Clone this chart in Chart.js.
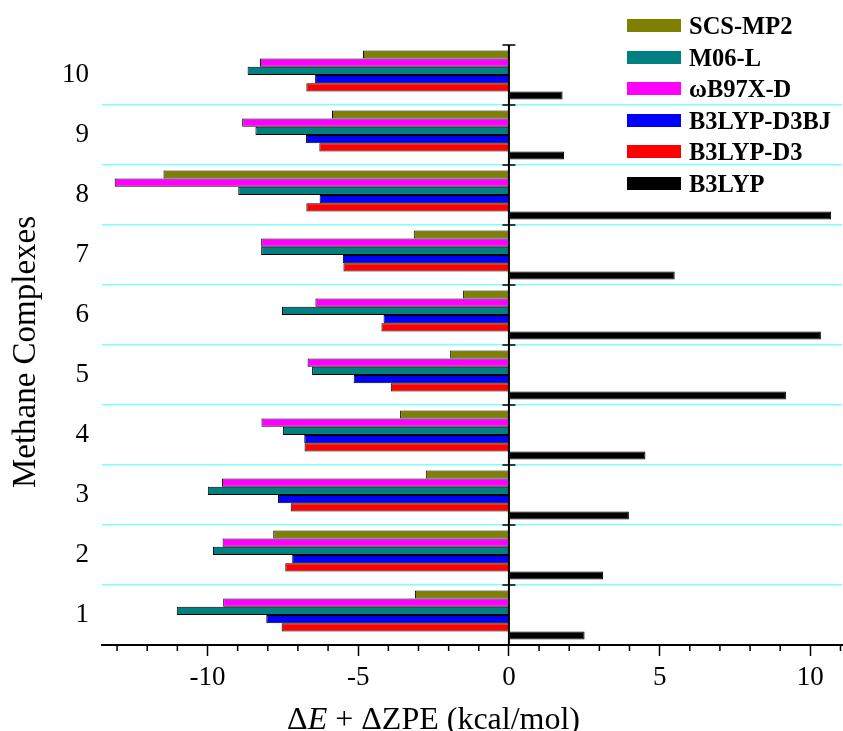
<!DOCTYPE html>
<html>
<head>
<meta charset="utf-8">
<title>Methane Complexes</title>
<script src="https://cdn.jsdelivr.net/npm/chart.js@4.4.1/dist/chart.umd.min.js"></script>
<style>
    body { margin: 0; background: #ffffff; }
    #wrap { position: relative; width: 843px; height: 731px; }
    #legend { position: absolute; left: 627px; top: 10px; font-family: "Times New Roman", "Liberation Serif", serif; }
    .legend-row { display: flex; align-items: center; height: 31.5px; }
    .legend-box { width: 54px; height: 13px; }
    .legend-text { margin-left: 8px; font-weight: bold; font-size: 24.5px; color: #000; line-height: 31.5px; }
</style>
</head>
<body>
<div id="wrap">
    <canvas id="energyChart" width="843" height="731"></canvas>
    <div id="legend"></div>
</div>
<script>
// complexes 1..10, energies in kcal/mol
const complexes = ["1", "2", "3", "4", "5", "6", "7", "8", "9", "10"];
const scsMp2   = [-3.12, -7.82, -2.76, -3.61, -1.95, -1.52, -3.16, -11.46, -5.87, -4.84];
const wb97xd   = [-9.48, -9.50, -9.52, -8.21, -6.68, -6.42, -8.22, -13.08, -8.85, -8.26];
const m06l     = [-11.02, -9.82, -9.99, -7.50, -6.53, -7.53, -8.22, -8.98, -8.41, -8.67];
const b3lypD3bj = [-8.05, -7.19, -7.66, -6.79, -5.15, -4.16, -5.51, -6.28, -6.73, -6.43];
const b3lypD3  = [-7.54, -7.42, -7.24, -6.78, -3.92, -4.23, -5.49, -6.72, -6.29, -6.72];
const b3lyp    = [2.51, 3.12, 3.98, 4.53, 9.19, 10.35, 5.50, 10.69, 1.83, 1.78];

const xTicks = [-10, -5, 0, 5, 10];
const legendOrder = ["SCS-MP2", "M06-L", "ωB97X-D", "B3LYP-D3BJ", "B3LYP-D3", "B3LYP"];

const serif = "'Times New Roman', 'Liberation Serif', serif";

document.addEventListener("DOMContentLoaded", function () {
    drawChart();
});

// zero axis with small ticks between complexes, short minor ticks on the x axis
const axisExtras = {
    id: "axisExtras",
    afterDatasetsDraw(chart) {
        let ctx = chart.ctx;
        let x = chart.scales.x;
        let y = chart.scales.y;
        let zero = x.getPixelForValue(0);
        let half = Math.abs(y.getPixelForValue(1) - y.getPixelForValue(0)) / 2;

        ctx.save();
        ctx.strokeStyle = "#000";
        ctx.lineWidth = 2;
        ctx.beginPath();
        ctx.moveTo(zero, y.top);
        ctx.lineTo(zero, y.bottom);
        ctx.stroke();

        ctx.lineWidth = 1.5;
        ctx.beginPath();
        complexes.forEach((c, i) => {
            let p = y.getPixelForValue(i);
            [p - half, p + half].forEach(edge => {
                ctx.moveTo(zero - 6.5, edge);
                ctx.lineTo(zero + 6.5, edge);
            });
        });
        ctx.stroke();

        ctx.beginPath();
        x.ticks.forEach(t => {
            if (t.value % 5 !== 0) {
                let px = x.getPixelForValue(t.value);
                ctx.moveTo(px, x.top);
                ctx.lineTo(px, x.top + 6);
            }
        });
        ctx.stroke();
        ctx.restore();
    },
    afterDraw(chart) {
        let ctx = chart.ctx;
        let x = chart.scales.x;
        let y = chart.scales.y;

        // x title with an italic E
        let parts = [
            { text: "Δ", font: "32px " + serif },
            { text: "E", font: "italic 32px " + serif },
            { text: " + ΔZPE (kcal/mol)", font: "32px " + serif }
        ];
        ctx.save();
        ctx.fillStyle = "#000";
        ctx.textBaseline = "alphabetic";
        let total = 0;
        parts.forEach(p => { ctx.font = p.font; p.w = ctx.measureText(p.text).width; total += p.w; });
        let start = x.getPixelForValue(-2.5) - total / 2;
        parts.forEach(p => {
            ctx.font = p.font;
            ctx.fillText(p.text, start, chart.height - 2);
            start += p.w;
        });

        // y title, a little below the middle of the axis
        ctx.font = "33px " + serif;
        ctx.textAlign = "center";
        ctx.textBaseline = "middle";
        ctx.translate(26, (y.top + y.bottom) / 2 + 7);
        ctx.rotate(-Math.PI / 2);
        ctx.fillText("Methane Complexes", 0, 0);
        ctx.restore();
    }
};

function drawChart() {
    let ctx = document.getElementById("energyChart").getContext("2d");

    // bar order inside each group, top to bottom
    let datasets = [
        { label: "SCS-MP2", data: scsMp2, backgroundColor: "#808000" },
        { label: "ωB97X-D", data: wb97xd, backgroundColor: "#ff00ff" },
        { label: "M06-L", data: m06l, backgroundColor: "#008080" },
        { label: "B3LYP-D3BJ", data: b3lypD3bj, backgroundColor: "#0000ff" },
        { label: "B3LYP-D3", data: b3lypD3, backgroundColor: "#ff0000" },
        { label: "B3LYP", data: b3lyp, backgroundColor: "#000000" }
    ];
    datasets.forEach(d => {
        d.borderColor = "#000";
        d.borderWidth = 1;
        d.categoryPercentage = 0.82;
        d.barPercentage = 1.0;
    });

    let chart = new Chart(ctx, {
        type: "bar",
        data: { labels: complexes, datasets: datasets },
        plugins: [axisExtras],
        options: {
            indexAxis: "y",
            responsive: false,
            animation: false,
            layout: { padding: { top: 45, right: 1, left: 0, bottom: 0 } },
            plugins: {
                legend: { display: false },
                tooltip: { enabled: false }
            },
            scales: {
                x: {
                    type: "linear",
                    min: -13.5,
                    max: 11.05,
                    afterFit: s => {
                        s.height = 86;
                        s.paddingLeft = 0;
                        s.paddingRight = 0;
                    },
                    border: { display: true, color: "#000", width: 2 },
                    grid: {
                        drawOnChartArea: false,
                        drawTicks: true,
                        tickLength: 11,
                        tickWidth: 1.5,
                        tickColor: c => (c.tick && xTicks.includes(c.tick.value)) ? "#000" : "rgba(0,0,0,0)"
                    },
                    ticks: {
                        stepSize: 1,
                        autoSkip: false,
                        includeBounds: false,
                        maxRotation: 0,
                        padding: 6,
                        color: "#000",
                        font: { family: serif, size: 27 },
                        callback: v => xTicks.includes(v) ? String(v) : ""
                    }
                },
                y: {
                    type: "category",
                    reverse: true,
                    offset: true,
                    afterFit: s => { s.width = 102; },
                    border: { display: false },
                    grid: {
                        drawTicks: false,
                        lineWidth: 1.5,
                        // only the lines between complexes, not the outer edges
                        color: c => (c.type !== "tick" || c.index === 0) ? "rgba(0,0,0,0)" : "#80ffff"
                    },
                    ticks: {
                        padding: 13,
                        color: "#000",
                        font: { family: serif, size: 27 }
                    }
                }
            }
        }
    });

    buildLegend(chart);
}

function buildLegend(chart) {
    let legend = document.getElementById("legend");
    legendOrder.forEach(name => {
        let ds = chart.data.datasets.find(d => d.label === name);
        let row = document.createElement("div");
        row.className = "legend-row";
        row.innerHTML = `<div class="legend-box" style="background:${ds.backgroundColor}"></div>` +
            `<span class="legend-text">${ds.label}</span>`;
        legend.appendChild(row);
    });
}
</script>
</body>
</html>
